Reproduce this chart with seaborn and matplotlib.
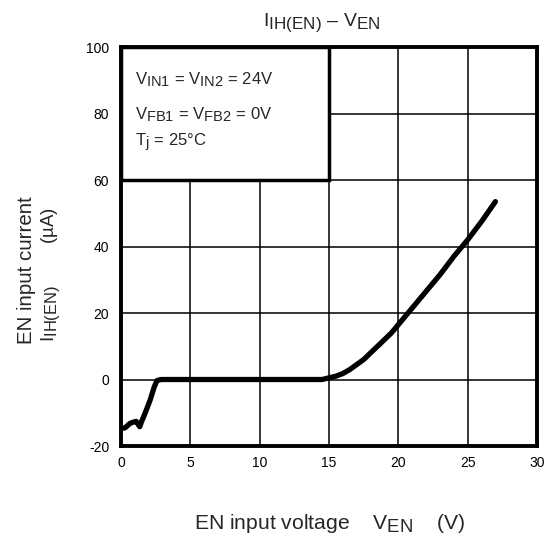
import matplotlib
matplotlib.use("Agg")
import matplotlib.pyplot as plt
import matplotlib.patches as mpatches
import matplotlib._mathtext as mathtext_impl
import seaborn as sns
import pandas as pd

#curve (EN voltage in V, EN current in uA)
v_en = [0, 0.3, 0.65, 0.9, 1.1, 1.35, 1.5, 1.75, 2.1, 2.4, 2.6, 2.9,
        5, 10, 14.5, 15, 15.5, 16, 16.5, 17, 17.5, 18, 18.5, 19, 19.5, 20,
        21, 22, 23, 24, 25, 26, 27]
i_en = [-14.8, -14.5, -13.2, -12.8, -12.6, -14.2, -12.5, -10, -6.2, -2.2, -0.3, 0,
        0, 0, 0, 0.5, 1, 1.8, 3, 4.5, 6, 8, 10, 12, 14, 16.5,
        21.5, 26.5, 31.5, 37, 42, 47.5, 53.5]

x_ticks = [0, 5, 10, 15, 20, 25, 30]
y_ticks = [-20, 0, 20, 40, 60, 80, 100]

#conditions printed in the box
cond_lines = ["V$_{IN1}$ = V$_{IN2}$ = 24V",
              "V$_{FB1}$ = V$_{FB2}$ = 0V",
              "T$_{j}$ = 25°C"]
cond_y = [88.9, 78.3, 70.0]

df = pd.DataFrame({"v": v_en, "i": i_en})

#subscripts in the datasheet are nearly full size
mathtext_impl.SHRINK_FACTOR = 0.88

sns.set_style("white")
plt.rcParams["font.family"] = ["Liberation Sans", "DejaVu Sans"]
plt.rcParams["mathtext.fontset"] = "custom"
plt.rcParams["mathtext.rm"] = "Liberation Sans"
plt.rcParams["mathtext.it"] = "Liberation Sans:italic"
plt.rcParams["mathtext.default"] = "regular"
plt.rcParams["axes.unicode_minus"] = False

fig = plt.figure(figsize=(5.46, 5.38), dpi=100)
ax = fig.add_axes([0.2216, 0.171, 0.7619, 0.7416])

sns.lineplot(data=df, x="v", y="i", color="black", linewidth=3.8,
             sort=False, ax=ax, zorder=5)

ax.set_xlim(0, 30)
ax.set_ylim(-20, 100)
ax.set_xticks(x_ticks)
ax.set_yticks(y_ticks)
ax.tick_params(length=0, labelsize=10, colors="black")
ax.tick_params(axis="x", pad=7)
ax.tick_params(axis="y", pad=8.5)
ax.grid(True, color="black", linewidth=1.1)
ax.set_axisbelow(True)
for sp in ax.spines.values():
    sp.set_color("black")
    sp.set_linewidth(2.8)
ax.set_xlabel("")
ax.set_ylabel("")

#white box with the test conditions, covers the grid
box = mpatches.Rectangle((0, 60), 15, 40, facecolor="white", edgecolor="black",
                         linewidth=2.5, zorder=3)
ax.add_patch(box)
for txt, yy in zip(cond_lines, cond_y):
    ax.text(1.0, yy, txt, fontsize=12, va="baseline", ha="left", zorder=4)

fig.text(322 / 546, 1 - 25.7 / 538, "I$_{IH(EN)}$ – V$_{EN}$", fontsize=14,
         ha="center", va="baseline")
fig.text(330 / 546, 1 - 529 / 538, "EN input voltage    V$_{EN}$    (V)",
         fontsize=15.2, ha="center", va="baseline")
fig.text(31.7 / 546, 1 - 270 / 538, "EN input current", fontsize=14.8,
         rotation=90, ha="center", va="baseline", rotation_mode="anchor")
fig.text(54 / 546, 1 - 275 / 538, "I$_{IH(EN)}$        (µA)", fontsize=13.5,
         rotation=90, ha="center", va="baseline", rotation_mode="anchor")

fig.savefig("out.png", dpi=100)
